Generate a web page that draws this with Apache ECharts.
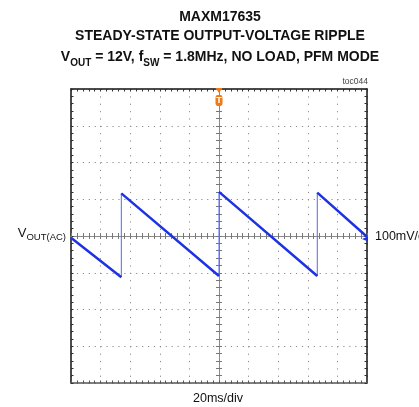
<!DOCTYPE html>
<html><head><meta charset="utf-8">
<script src="https://cdn.jsdelivr.net/npm/echarts@6/dist/echarts.min.js"></script>
<style>html,body{margin:0;padding:0;background:#fff;}#c{width:419px;height:407px;}</style>
</head><body><div id="c"></div>
<script>
// time axis in ms (20 ms/div, 10 div), voltage axis in mV (100 mV/div, 8 div)
const timeRange = [-100, 100];
const timeStep = 20;
const voltRange = [-400, 400];
const voltStep = 100;
// sawtooth ripple
const edgeTimes = [-66.0, 0.0, 66.4];   // ms, rising edges
const edgeLow = [-112, -109, -109];     // mV just before each edge
const edgeHigh = [116, 120, 118];       // mV just after each edge
const traceStart = [-100, -5];
const traceEnd = [100, -2];
const triggerTime = 0;
const groundLevel = 0;

const titleLines = ['MAXM17635', 'STEADY-STATE OUTPUT-VOLTAGE RIPPLE'];
const FONT = '"Liberation Sans", Arial, sans-serif';

const ramp = [traceStart];
const edges = [];
edgeTimes.forEach((t, i) => {
  ramp.push([t, edgeLow[i]]);
  ramp.push([t, '-']);
  ramp.push([t, edgeHigh[i]]);
  edges.push([t, edgeLow[i]], [t, edgeHigh[i]], [t, '-']);
});
ramp.push(traceEnd);

const G = {left: 71, top: 89, width: 296, height: 294};
const tick = (c, len, inside) => ({show: true, inside: inside, length: len, lineStyle: {color: c, width: 1}});
const minor = (c, len) => ({show: true, splitNumber: 5, length: len, lineStyle: {color: c, width: 1}});
const bx = {type: 'value', min: timeRange[0], max: timeRange[1], interval: timeStep, axisLabel: {show: false}, splitLine: {show: false}};
const by = {type: 'value', min: voltRange[0], max: voltRange[1], interval: voltStep, axisLabel: {show: false}, splitLine: {show: false}};

const chart = echarts.init(document.getElementById('c'), null, {renderer: 'canvas'});
chart.setOption({
  animation: false,
  backgroundColor: '#fff',
  grid: [Object.assign({}, G), Object.assign({}, G), Object.assign({}, G)],
  title: [
    {text: titleLines[0], left: 220, top: 17, textAlign: 'center', textVerticalAlign: 'middle', padding: 0,
      textStyle: {fontFamily: FONT, fontSize: 14, fontWeight: 'bold', color: '#111'}},
    {text: titleLines[1], left: 220, top: 36, textAlign: 'center', textVerticalAlign: 'middle', padding: 0,
      textStyle: {fontFamily: FONT, fontSize: 14, fontWeight: 'bold', color: '#111'}},
    {text: '{b|V}{s|OUT}{b| = 12V, f}{s|SW}{b| = 1.8MHz, NO LOAD, PFM MODE}', left: 220, top: 50, textAlign: 'center', textVerticalAlign: 'top', padding: 0,
      textStyle: {fontFamily: FONT, color: '#111', rich: {
        b: {fontFamily: FONT, fontSize: 14, fontWeight: 'bold', color: '#111', lineHeight: 18, verticalAlign: 'top'},
        s: {fontFamily: FONT, fontSize: 10, fontWeight: 'bold', color: '#111', lineHeight: 10, verticalAlign: 'bottom'}
      }}},
    {text: 'toc044', left: 368, top: 81.5, textAlign: 'right', textVerticalAlign: 'middle', padding: 0,
      textStyle: {fontFamily: FONT, fontSize: 8.5, fontWeight: 'normal', color: '#444'}},
    {text: '{b|V}{s|OUT(AC)}', left: 66, top: 226.5, textAlign: 'right', textVerticalAlign: 'top', padding: 0,
      textStyle: {fontFamily: FONT, fontWeight: 'normal', color: '#111', rich: {
        b: {fontFamily: FONT, fontSize: 13, fontWeight: 'normal', color: '#111', lineHeight: 16, verticalAlign: 'top'},
        s: {fontFamily: FONT, fontSize: 9.5, fontWeight: 'normal', color: '#111', lineHeight: 10, verticalAlign: 'bottom'}
      }}},
    {text: '100mV/div', left: 375, top: 237, textAlign: 'left', textVerticalAlign: 'middle', padding: 0,
      textStyle: {fontFamily: FONT, fontSize: 12.5, fontWeight: 'normal', color: '#111'}},
    {text: '20ms/div', left: 218, top: 398.5, textAlign: 'center', textVerticalAlign: 'middle', padding: 0,
      textStyle: {fontFamily: FONT, fontSize: 12.5, fontWeight: 'normal', color: '#111'}}
  ],
  xAxis: [
    Object.assign({}, bx, {gridIndex: 0, position: 'bottom', axisLine: {onZero: false, lineStyle: {color: '#555', width: 1.5}},
      axisTick: tick('#555', 2.5, true), minorTick: minor('#555', 2.5),
      splitLine: {show: true, lineStyle: {color: '#8c8c8c', width: 1, type: [1.2, 6.15]}}}),
    Object.assign({}, bx, {gridIndex: 0, position: 'top', axisLine: {onZero: false, lineStyle: {color: '#111', width: 1.5}},
      axisTick: tick('#333', 2.5, true), minorTick: minor('#333', 2.5)}),
    Object.assign({}, bx, {gridIndex: 1, axisLine: {onZero: true, lineStyle: {color: '#8a8a8a', width: 1}},
      axisTick: tick('#777', 3, true), minorTick: minor('#777', 3)}),
    Object.assign({}, bx, {gridIndex: 2, axisLine: {onZero: true, lineStyle: {color: '#8a8a8a', width: 1}},
      axisTick: tick('#777', 3, false), minorTick: minor('#777', 3)})
  ],
  yAxis: [
    Object.assign({}, by, {gridIndex: 0, position: 'left', axisLine: {onZero: false, lineStyle: {color: '#111', width: 1.5}},
      axisTick: tick('#333', 2.5, true), minorTick: minor('#333', 2.5),
      splitLine: {show: true, lineStyle: {color: '#8c8c8c', width: 1, type: [1.2, 4.72]}}}),
    Object.assign({}, by, {gridIndex: 0, position: 'right', axisLine: {onZero: false, lineStyle: {color: '#111', width: 1.5}},
      axisTick: tick('#333', 2.5, true), minorTick: minor('#333', 2.5)}),
    Object.assign({}, by, {gridIndex: 1, axisLine: {onZero: true, lineStyle: {color: '#8a8a8a', width: 1}},
      axisTick: tick('#777', 3, true), minorTick: minor('#777', 3)}),
    Object.assign({}, by, {gridIndex: 2, axisLine: {onZero: true, lineStyle: {color: '#8a8a8a', width: 1}},
      axisTick: tick('#777', 3, false), minorTick: minor('#777', 3)})
  ],
  series: [
    {type: 'line', name: 'edges', xAxisIndex: 0, yAxisIndex: 0, data: edges, symbol: 'none', silent: true, z: 4,
      lineStyle: {color: '#5566f2', width: 1}},
    {type: 'line', name: 'ripple', xAxisIndex: 0, yAxisIndex: 0, data: ramp, symbol: 'none', silent: true, z: 5,
      lineStyle: {color: '#1d33e3', width: 2.5},
      markPoint: {silent: true, animation: false, data: [
        {coord: [triggerTime, voltRange[1]], symbol: 'triangle', symbolRotate: 180, symbolSize: [7, 5], symbolOffset: [0, 1.5],
          itemStyle: {color: '#f07a18'}, label: {show: false}},
        {coord: [triggerTime, voltRange[1]], symbol: 'roundRect', symbolSize: [7, 11], symbolOffset: [0, 11.5],
          itemStyle: {color: '#f07a18'}, label: {show: true, formatter: 'T', color: '#fff', fontSize: 9, fontWeight: 'bold', fontFamily: FONT}},
        {coord: [timeRange[1], groundLevel], symbol: 'triangle', symbolRotate: 90, symbolSize: [5, 6], symbolOffset: [-2, 3],
          itemStyle: {color: '#1d33e3'}, label: {show: false}}
      ]}}
  ]
});
</script></body></html>
